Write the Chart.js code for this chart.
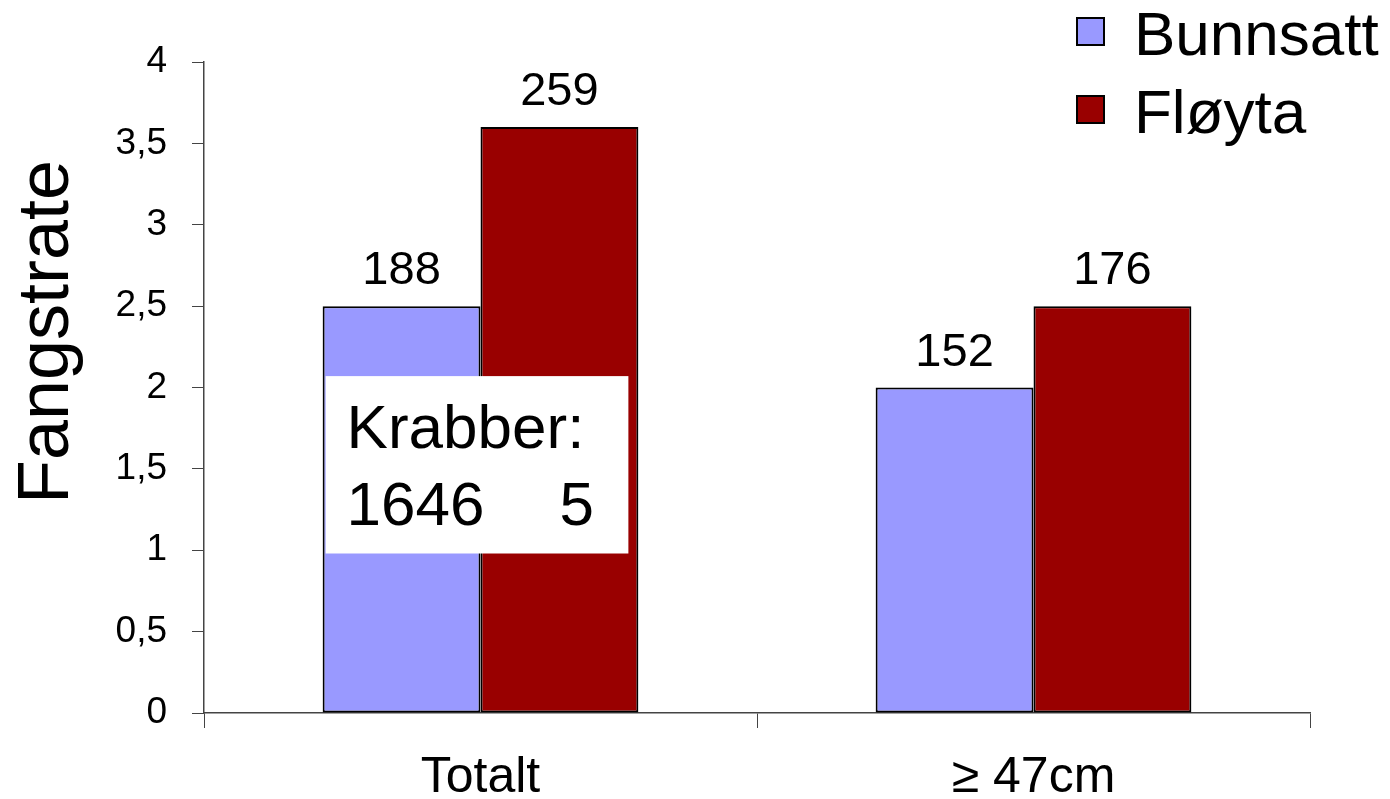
<!DOCTYPE html>
<html lang="no">
<head>
  <meta charset="UTF-8" />
  <title>Fangstrate - Bunnsatt og Fløyta</title>
  <script src="https://cdn.jsdelivr.net/npm/chart.js"></script>
  <style>
    html, body { margin: 0; padding: 0; background: #fff; }
    #wrap { width: 1390px; height: 799px; position: relative; }
  </style>
</head>
<body>
  <div id="wrap"><canvas id="chart"></canvas></div>

  <script>
    const categories = ['Totalt', '\u2265 47cm'];
    const seriesNames = ['Bunnsatt', 'Fløyta'];
    const seriesColors = ['#9999FF', '#990000'];
    const bunnsatt = [2.5, 2.0];
    const floyta = [3.6, 2.5];
    const bunnsattN = [188, 152];
    const floytaN = [259, 176];
    const yTickLabels = ['0', '0,5', '1', '1,5', '2', '2,5', '3', '3,5', '4'];
    const yTitle = 'Fangstrate';
    const krabberTitle = 'Krabber:';
    const krabberCounts = ['1646', '5'];

    const FONT = "'Liberation Sans', Arial, sans-serif";

    // labels over bars, the Krabber box, y title and the legend
    const extras = {
      id: 'extras',
      afterDatasetsDraw(chart) {
        const ctx = chart.ctx;
        const counts = [bunnsattN, floytaN];
        ctx.save();
        ctx.fillStyle = '#000';
        ctx.font = '47px ' + FONT;
        ctx.textAlign = 'center';
        ctx.textBaseline = 'alphabetic';
        counts.forEach((arr, di) => {
          chart.getDatasetMeta(di).data.forEach((bar, i) => {
            ctx.fillText(String(arr[i]), bar.x, bar.y - 22);
          });
        });

        // Krabber box
        const y = chart.scales.y;
        const b0 = chart.getDatasetMeta(0).data[0];
        const b1 = chart.getDatasetMeta(1).data[0];
        const left = b0.x - b0.width / 2 + 3;
        const right = b1.x + b1.width / 2 - 10;
        const top = y.getPixelForValue(2.07);
        const bottom = y.getPixelForValue(0.98);
        ctx.fillStyle = '#fff';
        ctx.fillRect(left, top, right - left, bottom - top);
        ctx.fillStyle = '#000';
        ctx.font = '62px ' + FONT;
        ctx.textAlign = 'left';
        ctx.fillText(krabberTitle, left + 21, top + 72);
        ctx.fillText(krabberCounts[0], left + 21, top + 149);
        ctx.fillText(krabberCounts[1], left + 234, top + 149);

        // legend
        ctx.font = '62px ' + FONT;
        const rows = [55, 133];
        seriesNames.forEach((name, i) => {
          const base = rows[i];
          ctx.fillStyle = seriesColors[i];
          ctx.fillRect(1077, base - 37, 27, 27);
          ctx.strokeStyle = '#000';
          ctx.lineWidth = 2;
          ctx.strokeRect(1077, base - 37, 27, 27);
          ctx.fillStyle = '#000';
          ctx.fillText(name, 1134, base);
        });

        // y axis title
        ctx.translate(68, 332);
        ctx.rotate(-Math.PI / 2);
        ctx.font = '72px ' + FONT;
        ctx.textAlign = 'center';
        ctx.fillText(yTitle, 0, 0);
        ctx.restore();
      }
    };

    new Chart(document.getElementById('chart'), {
      type: 'bar',
      data: {
        labels: categories,
        datasets: [
          {
            label: seriesNames[0],
            data: bunnsatt,
            backgroundColor: seriesColors[0],
            borderColor: '#000',
            borderWidth: 2,
            borderSkipped: false,
            categoryPercentage: 0.571,
            barPercentage: 1.0
          },
          {
            label: seriesNames[1],
            data: floyta,
            backgroundColor: seriesColors[1],
            borderColor: '#000',
            borderWidth: 2,
            borderSkipped: false,
            categoryPercentage: 0.571,
            barPercentage: 1.0
          }
        ]
      },
      options: {
        responsive: true,
        maintainAspectRatio: false,
        animation: false,
        layout: { padding: { top: 62, right: 80, left: 0, bottom: 0 } },
        plugins: {
          legend: { display: false },
          tooltip: { enabled: false }
        },
        scales: {
          x: {
            afterFit: (s) => { s.height = 86; },
            grid: {
              offset: true,
              drawOnChartArea: false,
              drawTicks: true,
              tickLength: 15,
              color: '#444',
              lineWidth: 1
            },
            border: { display: true, color: '#444', width: 1.5 },
            ticks: {
              color: '#000',
              padding: 25,
              font: { family: FONT, size: 50, lineHeight: 1.0 }
            }
          },
          y: {
            min: 0,
            max: 4,
            afterFit: (s) => { s.width = 204; },
            grid: {
              drawOnChartArea: false,
              drawTicks: true,
              tickLength: 12,
              color: '#444',
              lineWidth: 1
            },
            border: { display: true, color: '#444', width: 1.5 },
            ticks: {
              stepSize: 0.5,
              color: '#000',
              padding: 25,
              font: { family: FONT, size: 37 },
              callback: (v, i) => yTickLabels[i]
            },
            title: { display: false }
          }
        }
      },
      plugins: [extras]
    });
  </script>
</body>
</html>
